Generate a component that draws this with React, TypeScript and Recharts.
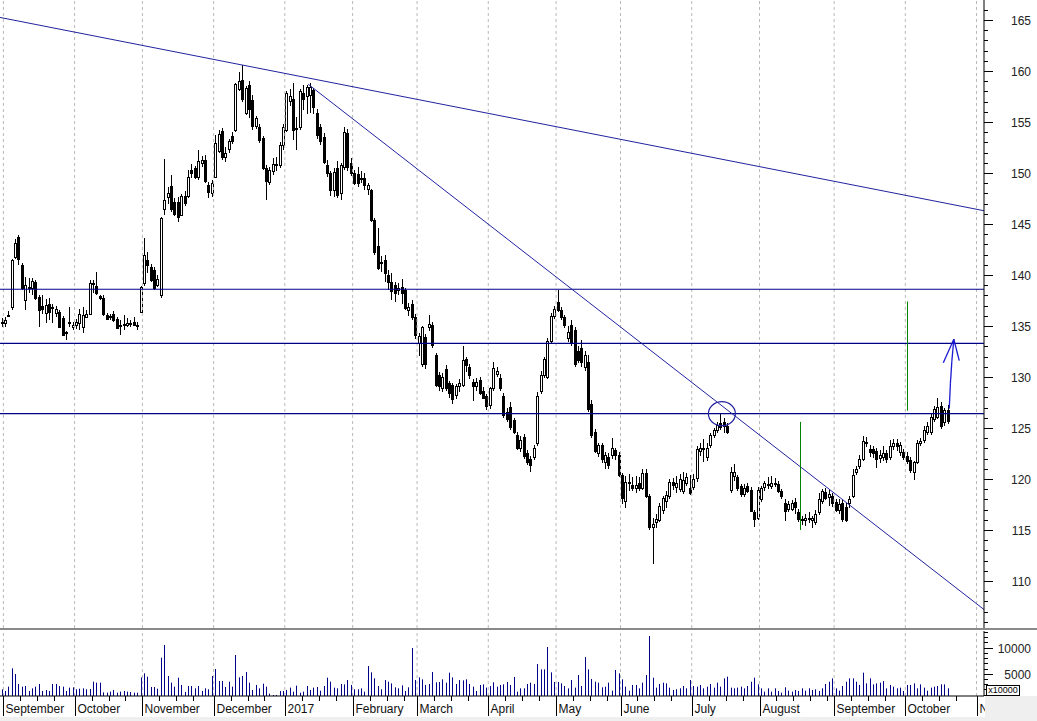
import { ComposedChart, Bar, XAxis, YAxis, ReferenceLine, ReferenceDot } from 'recharts'

// daily candles as [open, high, low, close], one array per month
const sep16 = [
  [135.4, 135.8, 134.9, 135.3], [135.3, 135.9, 134.9, 135.6], [136.0, 136.5, 135.9, 136.1], [136.9, 141.6, 136.6, 141.5],
  [141.8, 143.5, 141.6, 143.1], [143.7, 143.9, 141.0, 141.6], [141.0, 141.2, 138.5, 138.7], [137.5, 139.8, 136.6, 139.0],
  [138.8, 139.7, 138.2, 138.7], [138.7, 139.7, 138.0, 139.4], [139.3, 139.5, 137.5, 137.7], [137.8, 138.0, 134.9, 136.6],
  [137.0, 138.0, 136.2, 136.7], [136.3, 137.6, 135.3, 137.1], [137.2, 137.7, 135.6, 136.4], [136.9, 137.2, 135.3, 136.8],
  [136.3, 137.0, 135.9, 136.7], [136.4, 136.6, 134.8, 134.9], [135.8, 136.0, 134.0, 134.1], [134.3, 134.5, 133.6, 134.4],
  [135.3, 136.9, 134.9, 135.4], [134.9, 135.4, 134.6, 135.1],
]
const oct16 = [
  [135.1, 135.7, 134.7, 135.4], [135.3, 136.7, 134.6, 136.2], [134.9, 136.9, 134.3, 136.1], [135.9, 136.6, 135.8, 136.2],
  [136.2, 139.5, 136.1, 139.2], [139.2, 139.5, 138.2, 139.1], [138.9, 140.3, 138.0, 138.2], [137.9, 138.0, 137.5, 137.7],
  [137.7, 138.0, 136.0, 136.2], [136.1, 136.3, 135.6, 135.7], [135.9, 136.2, 135.6, 136.0], [136.2, 136.5, 135.4, 135.6],
  [135.7, 135.9, 134.7, 134.8], [135.1, 135.6, 134.1, 135.0], [135.1, 136.1, 134.6, 135.2], [135.1, 135.8, 134.9, 135.3],
  [135.2, 135.6, 134.9, 135.3], [135.4, 135.9, 135.0, 135.1], [135.1, 135.4, 134.6, 135.0], [136.35, 138.9, 136.3, 138.85],
]
const nov16 = [
  [139.2, 143.6, 138.9, 142.0], [141.5, 142.3, 140.2, 141.0], [140.8, 141.1, 139.3, 139.5], [140.5, 140.8, 138.5, 138.7],
  [139.0, 140.0, 138.8, 139.6], [138.0, 145.7, 137.7, 145.6], [146.5, 151.4, 145.9, 147.4], [147.6, 148.6, 147.0, 148.0],
  [148.7, 149.8, 146.2, 146.5], [147.2, 147.5, 145.8, 146.0], [147.2, 147.6, 145.2, 145.7], [145.9, 147.9, 145.8, 147.7],
  [147.7, 148.2, 146.8, 147.1], [147.7, 150.3, 147.5, 149.6], [150.3, 150.9, 149.5, 150.0], [150.5, 150.7, 149.4, 149.6],
  [149.6, 152.3, 149.3, 151.2], [151.0, 151.7, 150.6, 151.3], [151.3, 151.8, 149.0, 149.2], [148.8, 149.1, 147.5, 148.1],
  [148.0, 149.3, 147.6, 149.0],
]
const dec16 = [
  [149.6, 153.7, 149.5, 152.9], [152.2, 154.2, 152.0, 153.8], [154.1, 154.4, 151.3, 151.6], [151.6, 152.5, 151.1, 152.0],
  [152.4, 153.3, 152.0, 153.1], [153.6, 154.0, 152.8, 153.1], [154.2, 158.8, 154.0, 158.7], [158.2, 159.9, 158.0, 159.05],
  [159.1, 160.6, 157.0, 157.3], [155.9, 158.5, 155.7, 158.3], [158.6, 159.0, 155.4, 156.3], [157.2, 157.6, 154.2, 154.6],
  [154.6, 155.6, 154.3, 155.4], [154.5, 154.8, 152.9, 153.2], [153.4, 153.6, 150.3, 150.5], [150.5, 150.8, 147.4, 149.2],
  [149.1, 150.6, 148.8, 150.3], [150.2, 151.5, 149.8, 150.9], [150.9, 151.6, 150.2, 150.8], [150.8, 153.0, 150.5, 152.7],
  [152.7, 154.8, 152.3, 154.5],
]
const jan17 = [
  [154.2, 158.0, 154.0, 157.8], [157.1, 158.2, 156.6, 157.5], [157.3, 158.8, 153.2, 154.2], [154.3, 155.5, 152.3, 154.4],
  [154.5, 158.2, 154.2, 158.0], [157.8, 158.6, 156.2, 157.3], [157.5, 158.6, 155.8, 158.4], [157.6, 158.8, 155.9, 158.4],
  [158.1, 158.3, 155.8, 156.5], [155.9, 156.3, 153.3, 153.7], [154.5, 154.8, 152.7, 153.1], [153.5, 153.9, 150.9, 151.1],
  [150.8, 151.3, 149.6, 150.0], [150.0, 150.2, 147.7, 148.3], [148.3, 150.5, 147.6, 150.1], [150.5, 151.2, 147.5, 147.8],
  [148.0, 151.0, 147.4, 150.8], [150.6, 154.5, 150.3, 154.0], [153.9, 154.3, 150.2, 150.6], [151.0, 151.5, 149.7, 150.0],
]
const feb17 = [
  [150.0, 150.3, 148.8, 149.0], [149.9, 150.6, 148.6, 149.0], [149.5, 150.2, 149.0, 149.5], [149.5, 150.0, 148.3, 148.8],
  [148.4, 149.0, 147.8, 148.8], [148.3, 148.4, 145.2, 145.4], [145.4, 145.6, 142.0, 142.3], [142.8, 144.6, 140.5, 140.7],
  [141.2, 141.9, 140.3, 141.3], [141.5, 142.0, 139.3, 140.2], [140.0, 140.5, 138.5, 139.3], [139.3, 140.2, 137.5, 138.4],
  [139.0, 139.3, 137.4, 138.2], [138.5, 139.2, 138.0, 138.7], [138.8, 139.6, 137.2, 138.2], [138.5, 138.7, 136.6, 136.8],
  [136.6, 137.3, 136.0, 136.9], [137.2, 137.5, 135.6, 135.9], [135.9, 136.2, 133.7, 134.1],
]
const mar17 = [
  [133.3, 134.3, 132.1, 134.0], [131.3, 135.0, 131.0, 134.9], [133.9, 134.2, 130.8, 131.3], [134.9, 136.1, 134.5, 135.2],
  [135.1, 135.4, 132.8, 133.1], [132.2, 132.4, 129.0, 129.2], [130.2, 130.5, 128.6, 129.1], [128.9, 130.4, 128.5, 130.0],
  [130.8, 131.2, 128.6, 128.9], [129.4, 129.6, 127.9, 128.4], [129.2, 129.4, 127.4, 127.8], [128.2, 129.3, 127.8, 129.1],
  [129.1, 129.8, 128.5, 129.4], [129.2, 133.0, 129.0, 131.7], [131.8, 132.0, 130.5, 131.2], [131.0, 131.3, 129.8, 130.2],
  [129.5, 129.8, 127.6, 129.1], [129.1, 129.9, 128.6, 129.5], [129.7, 130.0, 128.2, 128.4], [128.6, 129.0, 127.8, 127.9],
  [128.1, 128.3, 126.8, 127.2],
]
const apr17 = [
  [127.3, 129.0, 126.9, 128.9], [128.9, 131.5, 128.6, 130.9], [130.3, 131.0, 130.0, 130.6], [129.9, 130.3, 128.6, 128.9],
  [128.1, 128.4, 126.0, 126.3], [126.6, 127.0, 125.6, 125.9], [127.1, 127.5, 124.8, 125.1], [125.8, 126.0, 124.4, 124.6],
  [124.3, 124.6, 122.8, 123.0], [123.0, 124.2, 122.6, 123.8], [124.1, 124.4, 122.0, 122.3], [122.5, 122.8, 121.4, 121.7],
  [122.0, 122.3, 120.7, 121.4], [122.2, 123.3, 121.9, 123.0], [123.5, 128.5, 123.2, 128.1], [128.6, 130.6, 128.3, 130.2],
  [130.2, 132.0, 129.9, 131.8], [130.0, 133.8, 129.8, 133.5], [133.5, 136.3, 133.2, 136.0], [136.0, 137.0, 135.7, 136.7],
]
const may17 = [
  [137.4, 138.5, 136.4, 136.6], [136.6, 136.9, 135.6, 135.9], [135.9, 136.1, 134.8, 135.1], [133.8, 135.0, 133.4, 134.4],
  [135.1, 135.6, 133.0, 133.3], [134.6, 134.9, 131.0, 131.3], [132.5, 133.0, 131.4, 131.7], [132.8, 133.6, 131.0, 131.5],
  [131.0, 132.5, 130.6, 132.2], [131.5, 132.2, 126.6, 126.9], [127.4, 127.7, 124.0, 124.3], [124.6, 124.9, 122.5, 122.7],
  [122.5, 123.5, 122.2, 123.3], [123.3, 123.5, 121.6, 122.0], [121.7, 122.6, 121.0, 122.4], [122.2, 122.5, 121.0, 121.4],
  [122.4, 124.0, 122.0, 123.0], [122.8, 123.0, 121.9, 122.4], [122.4, 122.6, 120.2, 120.4],
]
const jun17 = [
  [120.4, 120.6, 117.5, 118.1], [117.8, 120.3, 117.2, 119.7], [119.6, 120.5, 118.8, 119.7], [119.4, 120.2, 118.8, 119.1],
  [119.1, 120.3, 118.6, 119.4], [119.6, 120.2, 118.8, 119.1], [119.1, 121.0, 118.9, 120.6], [120.6, 121.0, 118.1, 118.3],
  [118.3, 118.5, 115.0, 115.3], [115.3, 116.2, 111.7, 115.6], [115.8, 116.6, 115.2, 116.1], [116.0, 117.6, 115.8, 117.4],
  [117.0, 118.3, 116.6, 118.1], [117.8, 118.8, 117.2, 118.4], [118.3, 120.0, 118.0, 119.7], [119.7, 120.1, 118.9, 119.4],
  [119.2, 120.3, 118.6, 119.6], [119.0, 120.5, 118.7, 120.0], [118.8, 120.7, 118.5, 119.9], [119.6, 120.6, 119.3, 120.2],
  [119.1, 120.4, 118.4, 118.6],
]
const jul17 = [
  [119.2, 120.5, 118.9, 120.0], [120.1, 123.2, 119.7, 122.9], [122.7, 123.5, 122.3, 123.0], [123.0, 123.9, 121.7, 122.9],
  [122.2, 123.5, 121.8, 123.0], [123.3, 124.5, 123.0, 124.3], [124.3, 125.0, 124.0, 124.8], [124.8, 125.6, 124.5, 125.3],
  [125.5, 126.4, 124.8, 125.1], [125.6, 126.0, 124.5, 125.2], [125.2, 125.5, 124.4, 124.6], [118.9, 121.2, 118.6, 120.7],
  [120.3, 121.5, 119.8, 120.7], [120.2, 120.4, 118.8, 119.1], [119.3, 119.5, 118.2, 118.5], [118.5, 119.5, 118.2, 119.1],
  [119.3, 119.6, 118.6, 118.8], [118.9, 119.2, 116.8, 116.9], [116.8, 117.0, 115.3, 116.1], [116.2, 119.2, 116.0, 118.9],
]
const aug17 = [
  [118.0, 119.3, 117.7, 119.1], [119.2, 119.8, 118.8, 119.6], [119.4, 120.2, 119.0, 119.5], [119.3, 120.3, 119.0, 119.6],
  [119.5, 120.1, 119.2, 119.6], [119.5, 119.8, 118.6, 118.8], [118.8, 119.0, 118.0, 118.3], [117.6, 118.0, 115.9, 116.9],
  [117.1, 117.8, 116.8, 117.5], [117.1, 117.9, 116.9, 117.6], [117.7, 118.1, 116.6, 117.3], [116.8, 117.1, 115.8, 116.1],
  [116.0, 116.4, 115.5, 116.1], [116.0, 116.6, 115.4, 116.2], [116.1, 116.8, 115.7, 116.2], [116.0, 116.4, 115.2, 116.2],
  [115.8, 117.0, 115.5, 116.6], [116.8, 118.6, 116.5, 118.0], [117.8, 119.0, 117.5, 118.8], [118.7, 119.1, 117.9, 118.1],
  [118.2, 118.9, 117.4, 118.5], [118.3, 118.6, 117.3, 117.6],
]
const sep17 = [
  [117.7, 118.0, 116.8, 117.0], [117.0, 118.0, 116.6, 117.5], [117.6, 117.9, 115.8, 116.1], [117.3, 117.6, 115.8, 116.0],
  [117.6, 118.3, 117.2, 118.0], [118.3, 121.0, 118.1, 120.4], [120.7, 121.3, 120.4, 121.0], [121.3, 122.4, 121.0, 122.0],
  [122.0, 124.2, 121.8, 123.7], [123.5, 124.1, 123.1, 123.6], [122.9, 123.3, 122.2, 122.6], [122.9, 123.2, 122.1, 122.5],
  [122.7, 123.0, 121.1, 122.0], [122.1, 122.8, 121.6, 122.4], [122.2, 123.2, 121.8, 122.5], [122.5, 122.8, 121.6, 122.0],
  [122.2, 123.8, 121.9, 123.2], [123.2, 123.9, 122.8, 123.5], [123.5, 123.9, 122.7, 123.2], [122.6, 123.6, 122.3, 123.3],
  [122.6, 122.9, 121.9, 122.2],
]
const oct17 = [
  [122.3, 122.6, 121.5, 121.8], [121.9, 122.2, 120.6, 120.9], [120.7, 121.8, 119.9, 121.7], [121.7, 123.8, 121.5, 123.5],
  [123.5, 124.0, 123.2, 123.7], [123.8, 125.2, 123.5, 124.8], [124.6, 125.6, 124.3, 125.2], [124.6, 126.4, 124.3, 126.1],
  [125.9, 127.2, 125.6, 126.9], [126.1, 127.9, 125.9, 127.1], [127.2, 127.5, 124.9, 125.2], [125.6, 127.0, 125.2, 126.8],
  [126.8, 127.3, 125.4, 125.7],
]

// daily volume (axis unit), one array per month
const volSep16 = [2030, 1710, 2540, 6050, 4960, 3050, 2540, 2660, 1710, 2220, 2540, 3050, 1710, 1900, 1710, 3050, 3050, 2660, 2540, 1710, 2350, 2410]
const volOct16 = [2030, 2150, 2220, 2030, 2090, 3490, 3300, 3300, 1450, 1390, 1580, 1900, 1390, 1580, 1710, 1580, 1520, 1390, 1390, 4320]
const volNov16 = [5090, 4450, 2470, 2470, 2150, 8090, 10510, 4580, 3300, 2540, 4260, 2860, 1520, 2660, 2660, 2220, 2660, 1710, 2220, 2030, 4580]
const volDec16 = [5920, 3620, 3620, 2470, 3490, 2540, 8600, 4320, 4580, 5340, 3300, 1900, 2860, 2220, 3110, 2540, 1200, 940, 940, 1710, 1710]
const volJan17 = [1900, 2350, 1580, 2730, 1390, 1580, 2660, 1900, 2350, 2470, 1770, 2660, 4260, 3490, 2350, 2220, 3050, 2980, 3810, 2860]
const volFeb17 = [2030, 2030, 2220, 1580, 6490, 5280, 4130, 2660, 2030, 3810, 3490, 3170, 2410, 2220, 2790, 1710, 2410, 9940, 3810]
const volMar17 = [4320, 3940, 2860, 3050, 5340, 3370, 3430, 3940, 3300, 5220, 4320, 3050, 3810, 3750, 3940, 3050, 2540, 1710, 2860, 2980, 2350]
const volApr17 = [2660, 3370, 2540, 2860, 2980, 3430, 2860, 4390, 1580, 2220, 2220, 3050, 3300, 3050, 6870, 5850, 5850, 10130, 5280, 3430]
const volMay17 = [3430, 3170, 2660, 2220, 3810, 2350, 4770, 2660, 8210, 5850, 4000, 3490, 3300, 2410, 2540, 3300, 1770, 5730, 5090]
const volJun17 = [3940, 2540, 1770, 2860, 2860, 2220, 3300, 4770, 12230, 4260, 2350, 3050, 3300, 3170, 2350, 1900, 2030, 2220, 2660, 2220, 3810]
const volJul17 = [2660, 2540, 2860, 2220, 2540, 3050, 2350, 3300, 2540, 4130, 4450, 2350, 2220, 2350, 2540, 2220, 2660, 3490, 4260, 2980]
const volAug17 = [2220, 1580, 2220, 1580, 2220, 1710, 1390, 2410, 1770, 1580, 1900, 1710, 2220, 1770, 2220, 1900, 2030, 1710, 2220, 3050, 3490, 4130]
const volSep17 = [2220, 1770, 2660, 3490, 4130, 4130, 3490, 2860, 5220, 3170, 4130, 2980, 3170, 3300, 3620, 2220, 2860, 2540, 2220, 2350, 1710]
const volOct17 = [2860, 2860, 3170, 2220, 2980, 2350, 1770, 2350, 2540, 2660, 2980, 2980, 2220]

// first trading-day slot of each month on the date axis
const monthStarts = [1, 22, 42, 63, 84, 104, 123, 144, 164, 183, 204, 224, 246, 267, 288]
const monthLabels = ['September', 'October', 'November', 'December', '2017', 'February', 'March', 'April', 'May', 'June', 'July', 'August', 'September', 'October', 'November']
const volTicks = [5000, 10000]

// drawn annotations, in (slot, price)
const levels = [138.6, 133.3, 126.4]
const trendLines = [
  [0, 165.25, 290.2, 146.3],
  [90.9, 158.7, 290.2, 107.2],
]
const greenMarks = [
  [236.07, 115.0, 125.6],
  [267.62, 126.7, 137.4],
]
const arrowPath = [[279.95, 126.9], [280.3, 129.4], [280.7, 131.5], [281.3, 133.7]]
const arrowHead = [[278.2, 131.4], [281.3, 133.7], [282.9, 131.6]]
const circleAt = { x: 212.9, y: 126.4 }

const SLOTS = 290.2
const FONT = '"Liberation Sans", Arial, sans-serif'
const NAVY = '#000088'
const LINE = '#2222a0'

const candleMonths = [sep16, oct16, nov16, dec16, jan17, feb17, mar17, apr17, may17, jun17, jul17, aug17, sep17, oct17]
const volMonths = [volSep16, volOct16, volNov16, volDec16, volJan17, volFeb17, volMar17, volApr17, volMay17, volJun17, volJul17, volAug17, volSep17, volOct17]
const allVol = volMonths.flat()
const data = candleMonths.flat().map(([o, h, l, c], i) => ({ x: i + 0.5, o, h, l, c, vol: allVol[i] }))

const minorPriceTicks: number[] = []
for (let v = 106; v <= 166; v++) minorPriceTicks.push(v)
const minorVolTicks: number[] = []
for (let v = 1000; v <= 13000; v += 1000) minorVolTicks.push(v)
const weekTicks: number[] = []
monthStarts.forEach((s, i) => {
  const next = monthStarts[i + 1] ?? SLOTS
  for (let t = s + 5; t < next - 1; t += 5) weekTicks.push(t)
})
const dateTicks = [...monthStarts, ...weekTicks].sort((a, b) => a - b)

function Candle(props: any) {
  const { x, y, width, height, payload } = props
  if (!payload || height == null) return null
  const { o, h, l, c } = payload
  const k = height / (h - l)
  const cx = Math.round(x + width / 2)
  const yo = y + (h - o) * k
  const yc = y + (h - c) * k
  const top = Math.round(Math.min(yo, yc))
  const bot = Math.max(top + 1, Math.round(Math.max(yo, yc)))
  return (
    <g>
      <line x1={cx + 0.5} x2={cx + 0.5} y1={Math.round(y)} y2={Math.round(y + height)} stroke="#000" />
      <rect x={cx - 0.5} y={top + 0.5} width={2} height={bot - top} fill={c >= o ? '#fff' : '#000'} stroke="#000" />
    </g>
  )
}

function VolBar(props: any) {
  const { x, y, width, height } = props
  if (!height || height <= 0) return null
  const px = Math.round(x + width / 2) + 0.5
  return <line x1={px} x2={px} y1={y} y2={y + height} stroke={NAVY} />
}

function AxisTick(props: any) {
  const { x, y, payload, majors } = props
  const v = payload.value
  const major = majors(v)
  const py = Math.round(y) + 0.5
  return (
    <g>
      <line x1={x} x2={x + (major ? 9 : 4)} y1={py} y2={py} stroke="#000" />
      {major && (
        <text x={x + 47} y={py + 4} textAnchor="end" fontSize={12} fontFamily={FONT} fill="#222">
          {v}
        </text>
      )}
    </g>
  )
}

function DateTick(props: any) {
  const { x, y, payload } = props
  const m = monthStarts.indexOf(payload.value)
  const px = Math.round(x) + 0.5
  if (m < 0) return <line x1={px} x2={px} y1={y} y2={y + 5} stroke="#000" />
  return (
    <g>
      <line x1={px} x2={px} y1={y} y2={y + 20} stroke="#000" />
      <text x={px + 2} y={y + 17} fontSize={12} fontFamily={FONT} fill="#111">
        {monthLabels[m]}
      </text>
    </g>
  )
}

// vertical green marker, snapped to a whole pixel column
function GreenMark(props: any) {
  const { x1, y1, y2 } = props
  const px = Math.round(x1) + 0.5
  return <line x1={px} x2={px} y1={y1} y2={y2} stroke="#008000" strokeWidth={1} />
}

const monthGrid = monthStarts.map((b) => (
  <ReferenceLine key={'g' + b} x={b} stroke="#b9b9b9" strokeDasharray="3 3" ifOverflow="visible" />
))

export default function App() {
  return (
    <div style={{ position: 'absolute', left: 0, top: 0, width: 1037, height: 721, background: '#fff', overflow: 'hidden' }}>
      <div style={{ position: 'absolute', left: 0, top: 0 }}>
        <ComposedChart width={1037} height={628} data={data} margin={{ top: 0, right: 0, bottom: 0, left: 0 }}>
          <XAxis dataKey="x" type="number" domain={[0, SLOTS]} allowDataOverflow hide />
          <YAxis
            orientation="right"
            width={53}
            type="number"
            domain={[105.39, 166.96]}
            allowDataOverflow
            ticks={minorPriceTicks}
            interval={0}
            tickSize={0}
            tickMargin={0}
            tickLine={false}
            axisLine={{ stroke: '#000' }}
            tick={(p: any) => <AxisTick {...p} majors={(v: number) => v % 5 === 0} />}
          />
          {monthGrid}
          <Bar dataKey={(d: any) => [d.l, d.h]} barSize={3} shape={(p: any) => <Candle {...p} />} isAnimationActive={false} />
          {levels.map((v) => (
            <ReferenceLine key={'h' + v} y={v} stroke={NAVY} strokeWidth={1.2} ifOverflow="visible" />
          ))}
          {trendLines.map(([x1, y1, x2, y2], i) => (
            <ReferenceLine key={'t' + i} segment={[{ x: x1, y: y1 }, { x: x2, y: y2 }]} stroke={LINE} ifOverflow="visible" />
          ))}
          {greenMarks.map(([x, y1, y2], i) => (
            <ReferenceLine
              key={'m' + i}
              segment={[{ x, y: y1 }, { x, y: y2 }]}
              ifOverflow="visible"
              shape={(p: any) => <GreenMark {...p} />}
            />
          ))}
          {arrowPath.slice(1).map((pt, i) => (
            <ReferenceLine key={'a' + i} segment={[{ x: arrowPath[i][0], y: arrowPath[i][1] }, { x: pt[0], y: pt[1] }]} stroke="#1a1ad0" strokeWidth={1.3} ifOverflow="visible" />
          ))}
          {arrowHead.slice(1).map((pt, i) => (
            <ReferenceLine key={'ah' + i} segment={[{ x: arrowHead[i][0], y: arrowHead[i][1] }, { x: pt[0], y: pt[1] }]} stroke="#1a1ad0" strokeWidth={1.3} ifOverflow="visible" />
          ))}
          <ReferenceDot
            x={circleAt.x}
            y={circleAt.y}
            r={13}
            ifOverflow="visible"
            shape={(p: any) => <ellipse cx={p.cx} cy={p.cy} rx={13.5} ry={12} fill="none" stroke={LINE} strokeWidth={1.2} />}
          />
        </ComposedChart>
      </div>
      <div style={{ position: 'absolute', left: 0, top: 628, width: 1037, height: 2, background: '#8a8a8a' }} />
      <div style={{ position: 'absolute', left: 0, top: 630 }}>
        <ComposedChart width={1037} height={91} data={data} margin={{ top: 1, right: 0, bottom: 0, left: 0 }}>
          <XAxis
            dataKey="x"
            type="number"
            domain={[0, SLOTS]}
            allowDataOverflow
            ticks={dateTicks}
            interval={0}
            height={25}
            tickSize={0}
            tickMargin={0}
            tickLine={false}
            axisLine={{ stroke: '#000' }}
            tick={(p: any) => <DateTick {...p} />}
          />
          <YAxis
            orientation="right"
            width={53}
            type="number"
            domain={[750, 13200]}
            allowDataOverflow
            ticks={minorVolTicks}
            interval={0}
            tickSize={0}
            tickMargin={0}
            tickLine={false}
            axisLine={{ stroke: '#000' }}
            tick={(p: any) => <AxisTick {...p} majors={(v: number) => volTicks.includes(v)} />}
          />
          {monthGrid}
          <Bar dataKey="vol" barSize={1} shape={(p: any) => <VolBar {...p} />} isAnimationActive={false} />
        </ComposedChart>
      </div>
      <div style={{ position: 'absolute', left: 0, top: 717, width: 1037, height: 4, background: '#efefef' }} />
      <div style={{ position: 'absolute', left: 985, top: 696, width: 52, height: 25, background: '#efefef' }} />
      <div
        style={{
          position: 'absolute',
          left: 986,
          top: 685,
          width: 32,
          height: 9,
          border: '1px solid #000',
          background: '#fff',
          fontFamily: FONT,
          fontSize: 9,
          lineHeight: '9px',
          color: '#000',
          textAlign: 'center',
        }}
      >
        x10000
      </div>
    </div>
  )
}
